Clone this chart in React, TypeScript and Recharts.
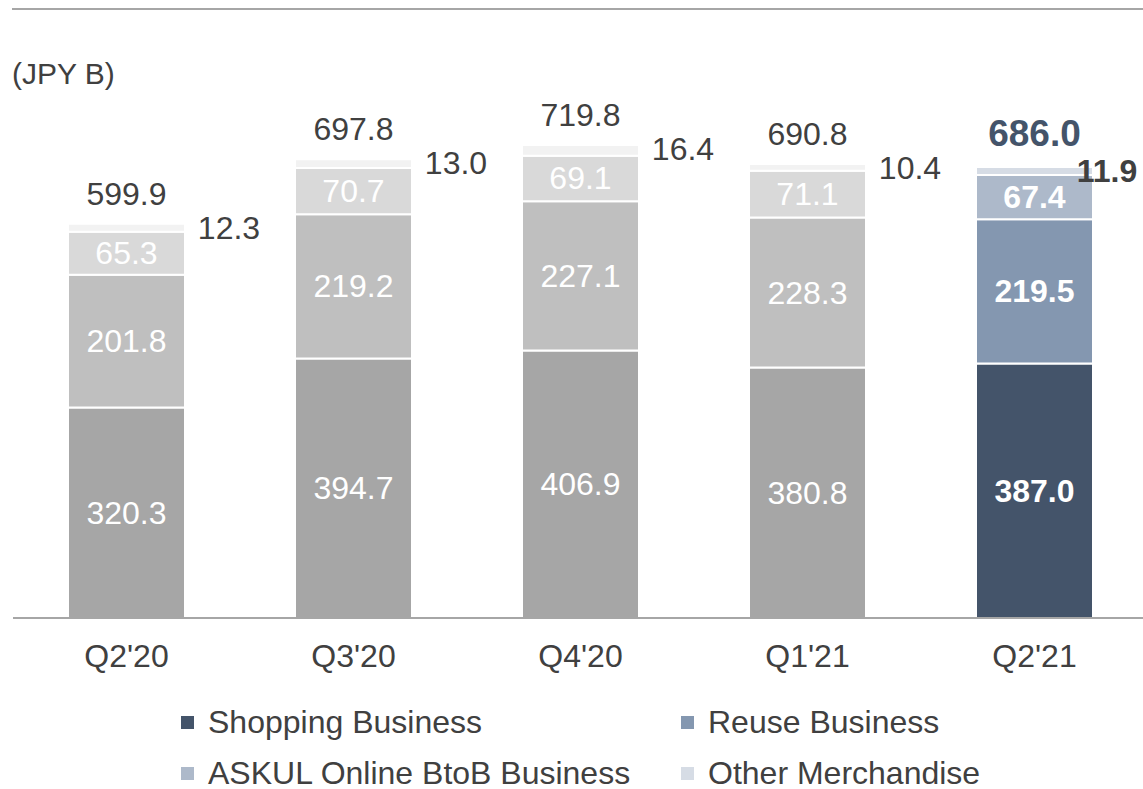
import { BarChart, Bar, XAxis, YAxis, Cell, LabelList } from 'recharts';

const quarters = ["Q2'20", "Q3'20", "Q4'20", "Q1'21", "Q2'21"];
const shopping = [320.3, 394.7, 406.9, 380.8, 387.0];
const reuse = [201.8, 219.2, 227.1, 228.3, 219.5];
const askul = [65.3, 70.7, 69.1, 71.1, 67.4];
const other = [12.3, 13.0, 16.4, 10.4, 11.9];
const totals = [599.9, 697.8, 719.8, 690.8, 686.0];

const seriesNames = ['Shopping Business', 'Reuse Business', 'ASKUL Online BtoB Business', 'Other Merchandise'];
const greyShades = ['#a6a6a6', '#bfbfbf', '#d9d9d9', '#f2f2f2'];
const currentShades = ['#44546a', '#8497b0', '#adb9ca', '#d6dce5'];

const data = quarters.map((q, i) => ({
  quarter: q,
  shopping: shopping[i],
  reuse: reuse[i],
  askul: askul[i],
  other: other[i],
  total: totals[i],
}));

const FONT = '"Liberation Sans", Arial, sans-serif';
const LAST = quarters.length - 1;

const InsideLabel = (props: any) => {
  const { x, y, width, height, value, index } = props;
  const bold = index === LAST;
  return (
    <text
      x={x + width / 2}
      y={y + height / 2}
      textAnchor="middle"
      dominantBaseline="central"
      fill="#ffffff"
      fontSize={32}
      fontWeight={bold ? 'bold' : 'normal'}
      fontFamily={FONT}
    >
      {Number(value).toFixed(1)}
    </text>
  );
};

const TopLabels = (props: any) => {
  const { x, y, width, value, index } = props;
  const last = index === LAST;
  const total = totals[index];
  return (
    <g>
      <text
        x={x + width / 2}
        y={y - (last ? 34 : 30)}
        textAnchor="middle"
        dominantBaseline="central"
        fill={last ? '#44546a' : '#404040'}
        fontSize={last ? 37 : 32}
        fontWeight={last ? 'bold' : 'normal'}
        fontFamily={FONT}
      >
        {total.toFixed(1)}
      </text>
      <text
        x={x + width + (last ? 14 : 44)}
        y={y + 4}
        textAnchor="middle"
        dominantBaseline="central"
        fill="#404040"
        fontSize={32}
        fontWeight={last ? 'bold' : 'normal'}
        fontFamily={FONT}
      >
        {Number(value).toFixed(1)}
      </text>
    </g>
  );
};

const keys = ['shopping', 'reuse', 'askul', 'other'];

export default function App() {
  return (
    <div style={{ position: 'absolute', left: 0, top: 0, width: 1143, height: 789, overflow: 'hidden', background: '#fff', fontFamily: FONT }}>
      <div style={{ position: 'absolute', left: 12, top: 8, width: 1131, height: 2, background: '#a6a6a6' }} />
      <div style={{ position: 'absolute', left: 12, top: 57, fontSize: 30, color: '#404040' }}>(JPY B)</div>
      <BarChart
        width={1148}
        height={789}
        data={data}
        margin={{ top: 92, right: 0, left: 13, bottom: 111 }}
        barSize={117}
      >
        <XAxis
          dataKey="quarter"
          height={60}
          axisLine={{ stroke: '#a6a6a6', strokeWidth: 2 }}
          tickLine={false}
          tickSize={0}
          tickMargin={26}
          tick={{ fill: '#404040', fontSize: 32, fontFamily: FONT }}
        />
        <YAxis hide domain={[0, 800]} />
        {keys.map((k, si) => (
          <Bar key={k} dataKey={k} name={seriesNames[si]} stackId="a" stroke="#ffffff" strokeWidth={2} isAnimationActive={false}>
            {data.map((_, i) => (
              <Cell key={i} fill={i === LAST ? currentShades[si] : greyShades[si]} />
            ))}
            {k === 'other' ? (
              <LabelList dataKey={k} content={TopLabels} />
            ) : (
              <LabelList dataKey={k} content={InsideLabel} />
            )}
          </Bar>
        ))}
      </BarChart>
      <div style={{ position: 'absolute', left: 0, top: 0, width: 1143, height: 789, pointerEvents: 'none' }}>
        {seriesNames.map((n, i) => {
          const col = i % 2;
          const row = Math.floor(i / 2);
          return (
            <div
              key={n}
              style={{
                position: 'absolute',
                left: col === 0 ? 181 : 681,
                top: row === 0 ? 704 : 755,
                display: 'flex',
                alignItems: 'center',
                height: 36,
                fontSize: 32,
                color: '#404040',
                whiteSpace: 'nowrap',
              }}
            >
              <span style={{ display: 'inline-block', width: 13, height: 13, background: currentShades[i], marginRight: 14 }} />
              {n}
            </div>
          );
        })}
      </div>
    </div>
  );
}
